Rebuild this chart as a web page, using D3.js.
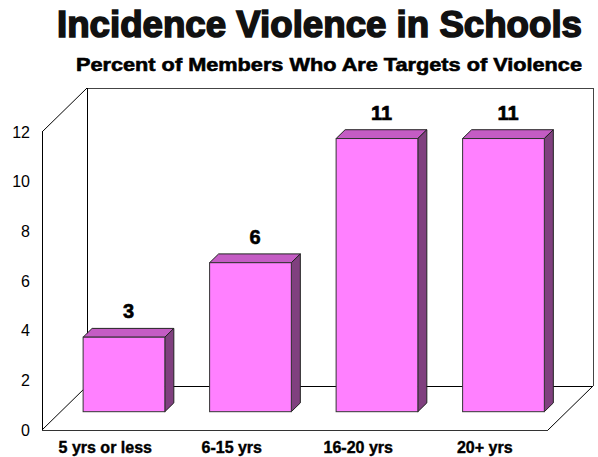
<!DOCTYPE html>
<html>
<head>
  <meta charset="utf-8">
  <script src="https://cdn.jsdelivr.net/npm/d3@7/dist/d3.min.js"></script>
  <style>
    body { margin: 0; background: #fff; }
    text { font-family: "Liberation Sans", Arial, sans-serif; }
  </style>
</head>
<body>
  <svg id="chart" width="598" height="457"></svg>
  <script>
    // data
    var categories = ["5 yrs or less", "6-15 yrs", "16-20 yrs", "20+ yrs"];
    var values = [3, 6, 11, 11];
    var yTicks = [0, 2, 4, 6, 8, 10, 12];

    var svg = d3.select("#chart");

    // 3d depth of the box
    var DX = 45, DY = -44;
    var barFront = 0.416, barDepth = 0.2;

    var x = d3.scaleBand().domain(categories).range([42, 548]);
    var y = d3.scaleLinear().domain([0, 12]).range([430, 132]);

    var line = function(x1, y1, x2, y2, c) {
      svg.append("line").attr("x1", x1).attr("y1", y1).attr("x2", x2).attr("y2", y2)
        .attr("stroke", c || "#000").attr("stroke-width", 1).attr("shape-rendering", "crispEdges");
    };
    var diag = function(x1, y1, x2, y2) {
      svg.append("line").attr("x1", x1).attr("y1", y1).attr("x2", x2).attr("y2", y2)
        .attr("stroke", "#000").attr("stroke-width", 1);
    };

    var x0 = x.range()[0], x1 = x.range()[1];
    var yb = y(0), yt = y(12);

    // back wall + floor
    line(x0 + DX, yt + DY, x1 + DX, yt + DY, "#444");
    line(x0 + DX, yt + DY, x0 + DX, yb + DY);
    line(x1 + DX, yt + DY, x1 + DX, yb + DY, "#444");
    line(x0 + DX, yb + DY, x1 + DX, yb + DY);
    diag(x0, yt, x0 + DX, yt + DY);
    diag(x0, yb, x0 + DX, yb + DY);
    diag(x1, yb, x1 + DX, yb + DY);
    line(x0, yt, x0, yb);
    line(x0, yb, x1, yb, "#333");

    // y axis labels
    var yAxis = d3.axisLeft(y).tickValues(yTicks).tickSize(0).tickPadding(12);
    var ga = svg.append("g").attr("transform", "translate(" + x0 + ",0)").call(yAxis);
    ga.select(".domain").remove();
    ga.selectAll("text").attr("font-size", 16).attr("fill", "#000")
      .style("font-family", "'Liberation Sans', Arial, sans-serif");

    // bars
    var bw = x.bandwidth() * 0.646;
    var fdx = DX * barFront, fdy = DY * barFront;
    var ddx = DX * barDepth, ddy = DY * barDepth;

    var bars = svg.selectAll(".bar").data(values).enter().append("g").attr("class", "bar");

    bars.each(function(d, i) {
      var g = d3.select(this);
      var cx = x(categories[i]) + x.bandwidth() / 2 + fdx;
      var l = cx - bw / 2, r = cx + bw / 2;
      var top = y(d) + fdy, bot = y(0) + fdy;
      // top face
      g.append("polygon")
        .attr("points", [[l, top], [r, top], [r + ddx, top + ddy], [l + ddx, top + ddy]].join(" "))
        .attr("fill", "#c45cc4").attr("stroke", "#222").attr("stroke-width", 1).attr("stroke-linejoin", "round");
      // side face
      g.append("polygon")
        .attr("points", [[r, top], [r + ddx, top + ddy], [r + ddx, bot + ddy], [r, bot]].join(" "))
        .attr("fill", "#80407f").attr("stroke", "#222").attr("stroke-width", 1).attr("stroke-linejoin", "round");
      // front face
      g.append("rect")
        .attr("x", l).attr("y", top).attr("width", bw).attr("height", bot - top)
        .attr("fill", "#ff80ff").attr("stroke", "#333").attr("stroke-width", 1);
      // value label
      g.append("text")
        .attr("x", cx + ddx / 2).attr("y", top + ddy - 10)
        .attr("text-anchor", "middle").attr("font-size", 20).attr("font-weight", "bold")
        .attr("stroke", "#000").attr("stroke-width", 0.6)
        .text(d);
    });

    // category labels
    svg.selectAll(".cat").data(categories).enter().append("text")
      .attr("class", "cat")
      .attr("x", function(d) { return x(d) + x.bandwidth() / 2; })
      .attr("y", 453)
      .attr("text-anchor", "middle").attr("font-size", 16).attr("font-weight", "bold")
      .attr("stroke", "#000").attr("stroke-width", 0.4)
      .text(function(d) { return d; });

    // titles
    svg.append("text").attr("x", 319.5).attr("y", 37).attr("text-anchor", "middle")
      .attr("font-size", 37).attr("font-weight", "bold")
      .attr("fill", "#111").attr("stroke", "#111").attr("stroke-width", 1.6)
      .attr("textLength", 525).attr("lengthAdjust", "spacingAndGlyphs")
      .text("Incidence Violence in Schools");
    svg.append("text").attr("x", 329).attr("y", 71).attr("text-anchor", "middle")
      .attr("font-size", 19).attr("font-weight", "bold")
      .attr("stroke", "#000").attr("stroke-width", 0.6)
      .attr("textLength", 506).attr("lengthAdjust", "spacingAndGlyphs")
      .text("Percent of Members Who Are Targets of Violence");
  </script>
</body>
</html>
